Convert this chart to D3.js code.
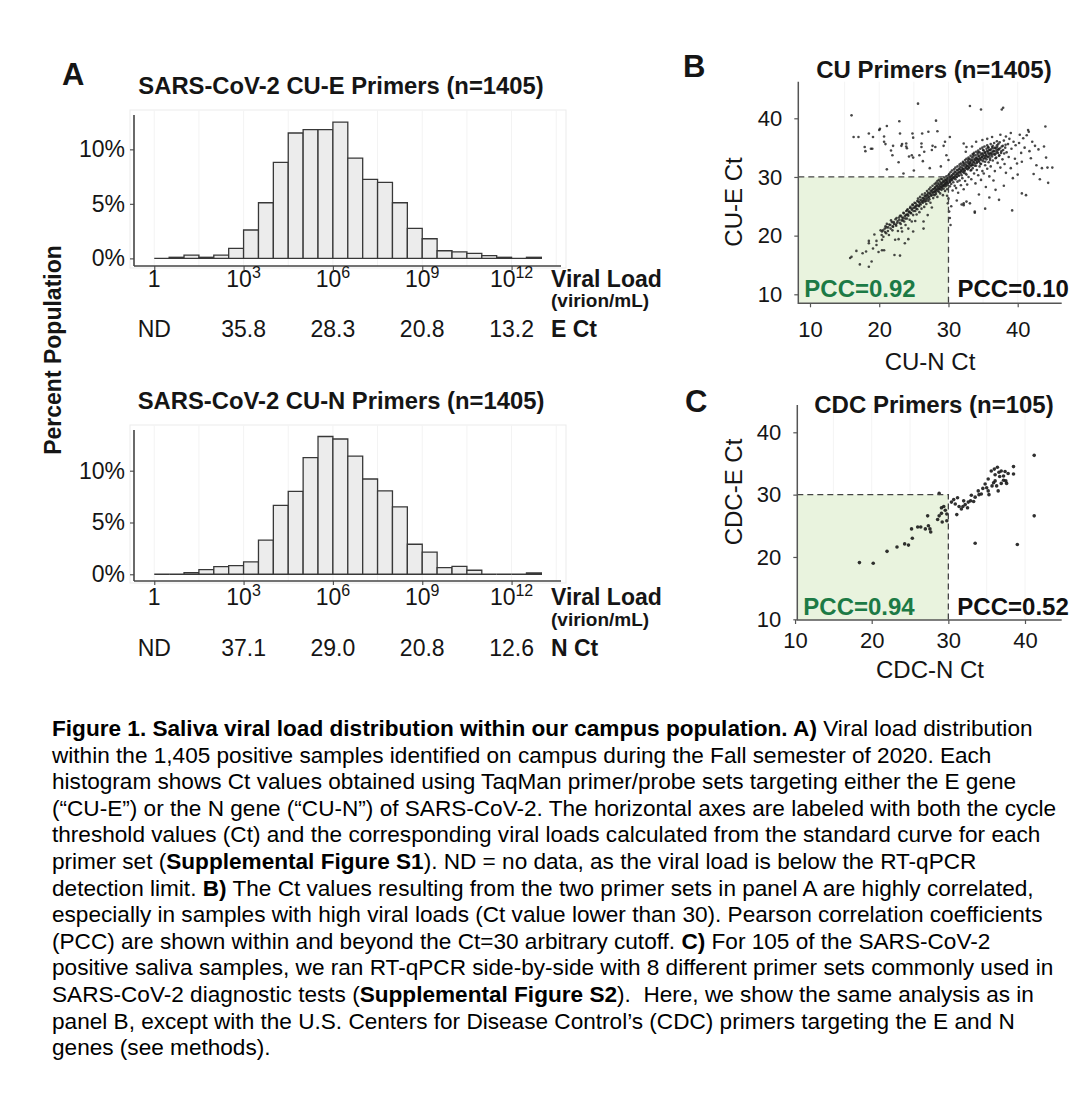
<!DOCTYPE html>
<html>
<head>
<meta charset="utf-8">
<script src="https://cdn.jsdelivr.net/npm/d3@7"></script>
<style>
    body { margin: 0; background: #fff; }
    text { font-family: "Liberation Sans", Arial, sans-serif; fill: #151515; }
</style>
</head>
<body>
<div class="figureContainer"></div>
<script>
// half-decade bins, log10 of viral load
var binExp = [0, 0.5, 1, 1.5, 2, 2.5, 3, 3.5, 4, 4.5, 5, 5.5, 6, 6.5, 7, 7.5, 8, 8.5, 9, 9.5, 10, 10.5, 11, 11.5, 12, 12.5, 13];
var cuE = [0, 0.1, 0.3, 0.1, 0.3, 0.92, 2.6, 5.1, 8.8, 11.5, 11.8, 11.8, 12.5, 9.2, 7.25, 6.97, 5.1, 2.75, 1.8, 0.7, 0.6, 0.45, 0.25, 0.1, 0, 0.1];
var cuN = [0, 0, 0.16, 0.45, 0.74, 0.84, 1.19, 3.3, 6.65, 8.0, 11.26, 13.3, 13.06, 11.4, 9.2, 8.06, 6.5, 2.9, 2.13, 0.65, 0.77, 0.39, 0, 0, 0, 0.13];

var loadTicks = [0, 3, 6, 9, 12];
var ctTicksE = ["ND", "35.8", "28.3", "20.8", "13.2"];
var ctTicksN = ["ND", "37.1", "29.0", "20.8", "12.6"];
var pctTicks = [0, 5, 10];
var ctTicks = [10, 20, 30, 40];

// CU-N Ct (x), CU-E Ct (y): scattered samples
var cuPairs = [
    [15.8,16.2],[16.0,16.4],[16.7,17.4],[17.2,15.1],[17.6,17.0],[18.1,17.3],[18.5,18.7],[18.5,19.1],[18.5,14.7],[18.9,15.6],
    [19.1,17.8],[19.3,20.2],[19.6,19.1],[19.6,18.4],[19.9,17.2],[20.4,19.3],[20.4,17.5],[20.7,17.5],[20.4,20.7],[20.9,21.6],
    [20.2,20.9],[20.6,19.8],[20.8,21.2],[21.0,20.4],[21.1,22.0],[21.3,21.4],[21.4,20.1],[21.6,21.8],[21.7,22.6],[21.9,20.9],
    [22.0,21.5],[22.1,22.3],[22.2,16.7],[22.3,19.3],[22.4,21.9],[22.5,23.0],[22.6,22.2],[22.7,20.8],[22.8,19.4],[22.9,22.7],
    [23.0,16.6],[23.0,23.4],[23.1,22.0],[23.2,21.3],[23.3,20.7],[23.3,23.1],[23.4,22.6],[23.5,23.9],[23.6,22.4],[23.7,18.7],
    [23.7,23.3],[23.8,21.8],[23.9,24.2],[24.0,22.9],[24.0,23.6],
    [24.1,24.5],[24.2,19.4],[24.2,21.2],[24.2,23.4],[24.3,24.0],[24.4,22.7],[24.5,24.9],[24.6,23.8],[24.7,22.4],[24.7,24.4],
    [24.8,25.3],[24.9,20.7],[24.9,23.5],[25.0,24.7],[25.1,25.6],[25.2,22.5],[25.2,24.2],[25.3,25.0],[25.4,23.6],[25.5,25.9],
    [25.5,24.5],[25.6,26.3],[25.7,25.1],[25.8,24.0],[25.8,25.7],[25.9,26.6],[26.0,25.3],[26.1,24.6],[26.1,26.0],[26.2,27.0],
    [26.3,25.6],[26.4,21.2],[26.4,22.4],[26.4,26.4],[26.5,24.9],[26.6,27.2],[26.6,25.8],[26.7,26.7],[26.8,25.4],[26.9,27.6],
    [26.9,26.2],[27.0,23.5],[27.0,27.0],[27.1,25.9],[27.2,27.9],[27.2,26.5],[27.3,27.3],[27.4,25.6],[27.4,28.2],[27.5,26.8],
    [27.6,27.7],[27.6,24.8],[27.7,28.5],[27.8,26.4],[27.8,27.4],[27.9,28.0],[28.0,26.9],[28.0,28.8],
    [28.1,27.6],[28.1,28.3],[28.2,29.0],[28.2,27.1],[28.3,28.6],[28.3,27.9],[28.4,29.3],[28.4,26.6],[28.5,28.2],[28.5,28.9],
    [28.6,27.5],[28.6,29.5],[28.7,28.4],[28.7,28.0],[28.8,29.2],[28.8,27.2],[28.9,28.7],[28.9,29.7],[29.0,28.3],[29.0,27.8],
    [29.1,29.0],[29.1,29.6],[29.2,28.5],[29.2,26.9],[29.3,29.3],[29.3,28.0],[29.4,29.9],[29.4,28.7],[29.5,29.1],[29.5,27.6],
    [29.6,29.5],[29.6,28.4],[29.7,30.1],[29.7,28.9],[29.8,29.3],[29.8,27.9],[29.9,29.8],[29.9,28.6],[30.0,30.3],[30.0,29.0],
    [29.9,25.5],[30.1,24.1],[30.2,23.0],[30.3,21.8],[30.0,26.3],[30.4,25.0],[29.8,26.8],
    [30.1,29.6],[30.1,30.5],[30.2,29.2],[30.2,28.4],[30.3,30.0],[30.3,30.8],[30.4,29.5],[30.4,28.8],[30.5,30.3],[30.5,31.1],
    [30.6,29.8],[30.6,27.7],[30.7,30.6],[30.7,29.1],[30.8,31.3],[30.8,30.0],[30.9,28.5],[30.9,30.9],[31.0,29.6],[31.0,31.6],
    [31.1,30.4],[31.1,28.1],[31.2,31.2],[31.2,30.0],[31.3,29.2],[31.3,31.8],[31.4,30.7],[31.4,27.3],[31.5,31.4],[31.5,30.2],
    [31.6,32.1],[31.6,29.4],[31.7,30.9],[31.7,31.7],[31.8,28.6],[31.8,32.3],[31.9,31.2],[31.9,30.3],[32.0,32.0],[32.0,29.8],
    [32.1,32.6],[32.1,31.4],[32.2,30.7],[32.2,27.9],[32.3,32.2],[32.3,31.0],[32.4,32.9],[32.4,29.3],[32.5,31.7],[32.5,32.5],
    [32.6,30.4],[32.6,33.1],[32.7,31.9],[32.7,28.7],[32.8,32.7],[32.8,31.3],[32.9,33.3],[32.9,30.0],[33.0,32.2],[33.0,31.6],
    [33.1,33.0],[33.1,32.4],[33.2,33.6],[33.2,31.1],[33.3,32.8],[33.3,29.6],[33.4,33.3],[33.4,32.0],[33.5,33.9],[33.5,31.5],
    [33.6,32.6],[33.6,33.5],[33.7,30.6],[33.7,34.1],[33.8,32.9],[33.8,31.9],[33.9,33.7],[33.9,28.9],[34.0,33.2],[34.0,34.3],
    [34.1,32.4],[34.1,31.2],[34.2,33.9],[34.2,33.0],[34.3,34.5],[34.3,30.3],[34.4,33.5],[34.4,32.6],[34.5,34.2],[34.5,31.8],
    [34.6,33.1],[34.6,34.8],[34.7,32.2],[34.7,29.5],[34.8,34.0],[34.8,33.4],[34.9,35.0],[34.9,31.0],[35.0,33.7],[35.0,32.7],
    [35.1,34.5],[35.1,30.6],[35.2,33.2],[35.2,35.2],[35.3,34.1],[35.3,32.0],[35.4,33.6],[35.4,28.3],[35.5,34.8],[35.5,33.0],
    [35.6,35.4],[35.6,31.4],[35.7,34.3],[35.7,33.4],[35.8,32.5],[35.8,35.0],[35.9,33.9],[35.9,30.1],[36.0,34.6],[36.0,33.2],
    [36.1,35.6],[36.1,31.8],[36.2,34.0],[36.3,33.5],[36.3,35.1],[36.4,32.8],[36.5,34.4],[36.5,29.4],[36.6,35.8],[36.7,33.8],
    [36.7,31.0],[36.8,34.9],[36.9,33.3],[37.0,34.3],[37.0,35.4],[37.1,32.4],[37.2,34.7],[37.3,33.6],[37.4,35.9],[37.5,31.6],
    [37.6,34.1],[37.7,35.2],[37.8,33.0],[37.9,34.6],[38.0,36.2],[38.1,32.2],[38.2,35.0],[38.3,30.7],[38.4,34.2],[38.6,35.6],
    [38.7,33.4],[38.8,36.5],[39.0,31.5],[39.1,34.8],[39.2,24.3],[39.3,29.8],[39.4,36.0],[39.6,33.1],[39.7,35.4],[39.9,32.3],
    [40.0,30.4],[40.2,35.8],[40.3,37.2],[40.5,34.1],[40.6,32.6],[40.8,36.6],[41.0,35.0],[41.2,26.9],[41.3,37.1],[41.5,38.0],
    [41.6,37.7],[41.7,34.4],[41.9,33.2],[42.1,36.0],[42.3,30.5],[42.5,35.3],[42.7,32.0],[43.0,34.7],[43.2,29.6],[43.5,31.5],
    [43.8,35.2],[44.0,38.6],[44.1,33.3],[44.3,31.6],[44.4,29.0],[45.0,31.6],
    [31.2,26.0],[31.9,25.3],[32.2,25.5],[32.6,25.8],[33.1,25.5],[33.8,24.1],[34.4,27.0],[35.3,24.6],[35.9,26.5],[36.8,27.8],
    [37.3,26.1],[38.0,28.5],[40.6,27.2],[33.8,23.9],[32.2,25.2],
    [16.0,40.5],[16.3,36.8],[17.0,36.8],[17.9,35.1],[18.0,34.4],[18.5,37.4],[18.8,34.8],[19.0,34.8],[19.1,36.8],[20.0,38.0],
    [20.1,38.2],[20.7,36.9],[20.7,36.0],[20.9,35.6],[21.1,38.7],[21.1,31.3],[21.7,34.5],[21.9,33.7],[22.0,35.3],[22.8,32.5],
    [22.9,39.5],[23.0,37.4],[23.2,35.3],[23.3,35.6],[23.9,35.7],[23.9,35.2],[24.0,34.9],[24.3,33.5],[24.7,33.7],[24.8,37.4],
    [24.9,36.7],[24.9,33.3],[25.0,31.1],[25.6,42.5],[25.8,33.7],[26.1,35.7],[26.1,35.1],[26.2,37.4],[26.3,32.7],[26.5,34.3],
    [27.1,37.7],[27.6,34.6],[27.7,35.3],[28.2,39.6],[28.4,37.8],[28.1,35.1],[29.3,35.3],[29.5,36.0],[29.7,33.7],[30.0,32.9],
    [30.2,36.8],[28.9,31.8],[27.3,31.5],[23.5,30.6],
    [33.1,42.1],[34.7,41.5],[37.7,41.5],[37.9,41.8],
    [32.2,35.7],[32.6,35.1],[32.5,34.3],[33.4,35.2],[34.0,36.0],[34.9,36.3],[35.6,36.5],[36.3,36.8],[37.0,36.1],[37.5,37.2],
    [38.3,36.9],[39.0,37.5]
];

// CU-N Ct (x), CU-E Ct (y): the dense diagonal core
var cuCore = [
    [20.35,20.1],[20.55,20.9],[20.85,20.6],[21.05,21.4],[21.25,20.8],[21.45,21.9],[21.65,21.2],[21.85,22.3],[21.95,21.6],[22.15,22.0],
    [22.35,22.8],[22.45,21.7],[22.65,22.5],[22.85,23.1],[22.95,22.2],[23.15,23.4],[23.25,22.6],[23.45,23.0],[23.55,23.8],[23.75,22.9],
    [23.85,23.5],[24.05,24.3],[24.15,23.6],[24.35,24.1],[24.45,24.7],[24.55,23.9],[24.75,24.6],[24.85,25.2],[24.95,24.2],[25.15,24.9],
    [25.25,25.5],[25.35,24.6],[25.45,25.2],[25.65,25.8],[25.75,25.0],[25.85,25.4],[25.95,26.1],[26.15,25.7],[26.25,26.4],[26.35,25.9],
    [26.45,26.1],[26.55,26.8],[26.65,26.3],[26.75,25.9],[26.85,26.9],[26.95,26.5],[27.05,27.3],[27.15,26.7],[27.25,26.2],[27.35,27.1],
    [27.45,27.6],[27.55,26.9],[27.65,27.3],[27.75,27.9],[27.85,27.0],[27.95,27.5],[28.05,28.1],[28.15,27.4],[28.25,27.8],[28.35,28.4],
    [28.45,27.6],[28.55,28.0],[28.65,28.7],[28.75,27.9],[28.85,28.3],[28.95,28.9],[29.05,28.1],[29.15,28.6],[29.25,29.2],[29.35,28.4],
    [29.45,28.8],[29.55,29.5],[29.65,28.7],[29.75,29.1],[29.85,29.7],[29.95,29.0],[30.05,29.4],[30.15,30.0],[30.25,29.2],[30.35,29.7],
    [30.45,30.2],[30.55,29.5],[30.65,29.9],[30.75,30.5],[30.85,29.8],[30.95,30.2],[31.05,30.8],[31.15,30.0],[31.25,30.5],[31.35,31.1],
    [31.45,30.3],[31.55,30.8],[31.65,31.3],[31.75,30.6],[31.85,31.0],[31.95,31.6],[32.05,30.9],[32.15,31.3],[32.25,31.9],[32.35,31.1],
    [32.45,31.5],[32.55,32.1],[32.65,31.4],[32.75,31.8],[32.85,32.4],[32.95,31.6],[33.05,32.0],[33.15,32.6],[33.25,31.9],[33.35,32.3],
    [33.45,32.9],[33.55,32.1],[33.65,32.5],[33.75,33.1],[33.85,32.3],[33.95,32.8],[34.05,33.3],[34.15,32.6],[34.25,33.0],[34.35,33.6],
    [34.45,32.8],[34.55,33.2],[34.65,33.8],[34.75,32.9],[34.85,33.4],[34.95,34.0],[35.05,33.1],[35.15,33.6],[35.25,34.2],[35.35,33.3],
    [35.45,33.8],[35.55,34.4],[35.65,33.5],[35.75,34.0],[35.85,34.6],[35.95,33.6],[36.05,34.1],[36.15,34.7],[36.25,33.8],[36.35,34.3],
    [36.45,34.9],[36.55,33.9],[36.65,34.4],[36.75,35.0],[36.85,34.0],[36.95,34.6],[37.05,35.1],[37.15,34.1],[37.25,34.7],[37.35,33.7],
    [37.45,34.9],[37.65,34.4],[37.85,35.3],[38.05,34.0],[38.25,35.5],
    [32.15,32.4],[32.45,30.6],[32.9,33.0],[33.3,31.2],[33.6,33.8],[34.0,31.9],[34.3,34.2],[34.6,32.3],[35.0,34.6],[35.3,32.6],
    [35.7,35.1],[36.0,32.9],[36.4,35.3],[36.8,33.2],[37.2,35.6]
];

// CDC-N Ct (x), CDC-E Ct (y)
var cdcPairs = [
    [41.2,36.3],[41.2,26.6],[39.0,22.0],[33.5,22.2],[18.4,19.1],[20.2,19.0],[22.0,20.9],[23.3,21.6],[24.3,22.1],[24.8,21.9],
    [25.3,23.0],[25.2,24.5],[26.0,24.8],[26.4,24.8],[27.0,24.5],[27.4,25.0],[27.6,24.5],[27.7,24.0],[27.3,26.6],[28.8,26.6],
    [29.1,27.0],[29.2,25.6],[28.8,30.2],[29.1,27.9],[29.4,28.1],[29.8,26.9],[29.8,25.8],[30.4,28.8],[30.7,29.2],[31.2,29.5],
    [31.1,26.8],[31.4,28.1],[31.7,27.7],[31.9,28.1],[32.2,28.4],[32.5,27.9],[32.6,28.8],[32.9,29.0],[33.3,28.9],[33.5,29.6],
    [33.9,30.6],[34.0,30.0],[34.3,30.1],[34.8,31.7],[35.0,31.1],[35.2,30.6],[35.3,30.0],[35.7,31.4],[35.9,31.9],[36.1,32.2],
    [36.3,31.4],[36.5,30.6],[35.6,33.8],[36.1,33.2],[36.4,34.4],[36.6,33.6],[36.9,33.8],[37.2,33.0],[37.4,33.7],[37.5,32.2],
    [37.6,31.8],[36.9,31.8],[37.2,32.3],[38.5,34.5],[38.5,33.3],[36.0,34.1],[35.2,32.5],[36.7,32.9],[37.8,33.4],[34.5,31.0],
    [33.0,29.9],[32.0,29.0],[30.9,28.5],[29.6,27.5],[28.6,26.0]
];

var captionLines = [
    [["Figure 1. Saliva viral load distribution within our campus population. A)", 1], [" Viral load distribution", 0]],
    [["within the 1,405 positive samples identified on campus during the Fall semester of 2020. Each", 0]],
    [["histogram shows Ct values obtained using TaqMan primer/probe sets targeting either the E gene", 0]],
    [["(\u201cCU-E\u201d) or the N gene (\u201cCU-N\u201d) of SARS-CoV-2. The horizontal axes are labeled with both the cycle", 0]],
    [["threshold values (Ct) and the corresponding viral loads calculated from the standard curve for each", 0]],
    [["primer set (", 0], ["Supplemental Figure S1", 1], ["). ND = no data, as the viral load is below the RT-qPCR", 0]],
    [["detection limit. ", 0], ["B)", 1], [" The Ct values resulting from the two primer sets in panel A are highly correlated,", 0]],
    [["especially in samples with high viral loads (Ct value lower than 30). Pearson correlation coefficients", 0]],
    [["(PCC) are shown within and beyond the Ct=30 arbitrary cutoff. ", 0], ["C)", 1], [" For 105 of the SARS-CoV-2", 0]],
    [["positive saliva samples, we ran RT-qPCR side-by-side with 8 different primer sets commonly used in", 0]],
    [["SARS-CoV-2 diagnostic tests (", 0], ["Supplemental Figure S2", 1], [").  Here, we show the same analysis as in", 0]],
    [["panel B, except with the U.S. Centers for Disease Control\u2019s (CDC) primers targeting the E and N", 0]],
    [["genes (see methods).", 0]]
];

var w = 1080,
    h = 1101;

var canvas = d3.select(".figureContainer")
    .append("svg")
    .attr("width", w)
    .attr("height", h);

function hideDomain(g) {
    g.select(".domain").remove();
    g.selectAll(".tick line").attr("stroke", "#555").attr("stroke-width", 1.2);
}

function histogram(o) {
    var x = d3.scaleLog()
        .domain([Math.pow(10, -0.68), Math.pow(10, 13.66)])
        .range([134, 561]);
    var y = d3.scaleLinear()
        .domain(o.yDomain)
        .range([o.axisY, o.axisTop]);

    var g = canvas.append("g");

    g.append("rect")
        .attr("x", 130).attr("y", o.axisTop - 5)
        .attr("width", 436).attr("height", o.axisY - o.axisTop + 7)
        .attr("fill", "none")
        .attr("stroke", "#ebebeb");

    g.selectAll(".grid")
        .data([0, 1.5, 3, 4.5, 6, 7.5, 9, 10.5, 12, 13.5])
        .enter().append("line")
        .attr("x1", function (d) { return x(Math.pow(10, d)); })
        .attr("x2", function (d) { return x(Math.pow(10, d)); })
        .attr("y1", o.axisTop - 5)
        .attr("y2", o.axisY)
        .attr("stroke", "#f3f3f3");

    g.selectAll(".bar")
        .data(o.values)
        .enter().append("path")
        .attr("d", function (d, i) {
            var x0 = x(Math.pow(10, binExp[i])),
                x1 = x(Math.pow(10, binExp[i + 1])),
                y0 = y(0),
                y1 = y(d);
            return "M" + x0 + "," + y0 + "V" + y1 + "H" + x1 + "V" + y0 + "Z";
        })
        .attr("fill", "#ececec")
        .attr("stroke", "#383838")
        .attr("stroke-width", 1.3);

    g.append("g")
        .attr("transform", "translate(134,0)")
        .call(d3.axisLeft(y).tickValues(pctTicks).tickSize(4).tickPadding(5)
            .tickFormat(function (d) { return d + "%"; }))
        .call(hideDomain)
        .selectAll("text")
        .style("font-size", "23px")
        .style("font-family", "'Liberation Sans', Arial, sans-serif")
        .attr("fill", "#222");

    g.append("g")
        .attr("transform", "translate(0," + o.axisY + ")")
        .call(d3.axisBottom(x).tickValues(loadTicks.map(function (e) { return Math.pow(10, e); }))
            .tickSize(4).tickFormat(""))
        .call(hideDomain);

    g.append("line")
        .attr("x1", 134).attr("x2", 134)
        .attr("y1", o.axisTop).attr("y2", o.axisY)
        .attr("stroke", "#444").attr("stroke-width", 1.6);
    g.append("line")
        .attr("x1", 134).attr("x2", 561)
        .attr("y1", o.axisY).attr("y2", o.axisY)
        .attr("stroke", "#444").attr("stroke-width", 1.6);

    var load = g.selectAll(".load")
        .data(loadTicks)
        .enter().append("text")
        .attr("x", function (d) { return x(Math.pow(10, d)); })
        .attr("y", o.row1)
        .attr("text-anchor", "middle")
        .style("font-size", "23px");
    load.append("tspan").text(function (d) { return d === 0 ? "1" : "10"; });
    load.filter(function (d) { return d > 0; })
        .append("tspan")
        .attr("dy", -9)
        .style("font-size", "16px")
        .text(function (d) { return d; });

    g.selectAll(".ct")
        .data(o.ct)
        .enter().append("text")
        .attr("x", function (d, i) { return x(Math.pow(10, loadTicks[i])); })
        .attr("y", o.row2)
        .attr("text-anchor", "middle")
        .style("font-size", "23px")
        .text(function (d) { return d; });

    g.append("text").attr("x", 551).attr("y", o.row1)
        .style("font-size", "23px").style("font-weight", "bold").text("Viral Load");
    g.append("text").attr("x", 551).attr("y", o.row1 + o.unitGap)
        .style("font-size", "19px").style("font-weight", "bold").text("(virion/mL)");
    g.append("text").attr("x", 551).attr("y", o.row2)
        .style("font-size", "23px").style("font-weight", "bold").text(o.ctLabel);

    g.append("text")
        .attr("x", 341).attr("y", o.titleY)
        .attr("text-anchor", "middle")
        .style("font-size", "23.8px").style("font-weight", "bold")
        .text(o.title);
}

function scatter(o) {
    var x = d3.scaleLinear().domain(o.xDomain).range(o.xRange),
        y = d3.scaleLinear().domain([10, 40]).range(o.yRange);
    var g = canvas.append("g");
    var left = o.box[0], right = o.box[1], top = o.box[2], bottom = o.box[3];

    g.selectAll(".grid")
        .data([15, 20, 25, 30, 35, 40])
        .enter().append("line")
        .attr("x1", function (d) { return x(d); })
        .attr("x2", function (d) { return x(d); })
        .attr("y1", top).attr("y2", bottom)
        .attr("stroke", "#f4f4f4");

    g.append("rect")
        .attr("x", left).attr("y", y(30))
        .attr("width", x(30) - left).attr("height", bottom - y(30))
        .attr("fill", "#e9f3de");

    g.selectAll(".dot")
        .data(o.points)
        .enter().append("circle")
        .attr("cx", function (d) { return x(d[0]); })
        .attr("cy", function (d) { return y(d[1]); })
        .attr("r", o.r)
        .attr("fill", "#1a1a1a")
        .attr("fill-opacity", o.alpha);

    g.append("path")
        .attr("d", "M" + left + "," + y(30) + "H" + x(30) + "V" + bottom)
        .attr("fill", "none")
        .attr("stroke", "#444")
        .attr("stroke-width", 1.3)
        .attr("stroke-dasharray", "6,4");

    g.append("g")
        .attr("transform", "translate(" + left + ",0)")
        .call(d3.axisLeft(y).tickValues(ctTicks).tickSize(4).tickPadding(12))
        .call(hideDomain)
        .selectAll("text")
        .style("font-size", "22px")
        .style("font-family", "'Liberation Sans', Arial, sans-serif")
        .attr("fill", "#222");

    g.append("g")
        .attr("transform", "translate(0," + bottom + ")")
        .call(d3.axisBottom(x).tickValues(ctTicks).tickSize(4).tickPadding(o.xPad))
        .call(hideDomain)
        .selectAll("text")
        .style("font-size", "22px")
        .style("font-family", "'Liberation Sans', Arial, sans-serif")
        .attr("fill", "#222");

    g.append("path")
        .attr("d", "M" + left + "," + top + "V" + bottom + "H" + right)
        .attr("fill", "none")
        .attr("stroke", "#555")
        .attr("stroke-width", 1.5);

    g.append("text")
        .attr("x", 934).attr("y", o.titleY)
        .attr("text-anchor", "middle")
        .style("font-size", "24px").style("font-weight", "bold")
        .text(o.title);

    g.append("text")
        .attr("x", 930).attr("y", o.xLabelY)
        .attr("text-anchor", "middle")
        .style("font-size", "24px")
        .text(o.xLabel);

    g.append("text")
        .attr("transform", "translate(742," + o.yLabelY + ") rotate(-90)")
        .attr("text-anchor", "middle")
        .style("font-size", "24px")
        .text(o.yLabel);

    g.append("text")
        .attr("x", left + 6).attr("y", o.pccY)
        .style("font-size", "24px").style("font-weight", "bold")
        .style("fill", "#1c7a45")
        .text(o.pcc[0]);
    g.append("text")
        .attr("x", x(30) + 9).attr("y", o.pccY)
        .style("font-size", "24px").style("font-weight", "bold")
        .style("fill", "#111")
        .text(o.pcc[1]);
}

histogram({
    values: cuE, ct: ctTicksE, ctLabel: "E Ct",
    title: "SARS-CoV-2 CU-E Primers (n=1405)",
    axisTop: 115, axisY: 266, yDomain: [-0.7, 13.15],
    titleY: 94, row1: 287, row2: 337, unitGap: 20
});

histogram({
    values: cuN, ct: ctTicksN, ctLabel: "N Ct",
    title: "SARS-CoV-2 CU-N Primers (n=1405)",
    axisTop: 430, axisY: 581, yDomain: [-0.65, 13.93],
    titleY: 409, row1: 605, row2: 656, unitGap: 21
});

scatter({
    points: cuPairs.concat(cuCore), r: 1.3, alpha: 0.8,
    xDomain: [10, 40], xRange: [810, 1017.7], yRange: [294.3, 118.3],
    box: [798.3, 1061.7, 81.7, 303.3], xPad: 14,
    title: "CU Primers (n=1405)", titleY: 78,
    xLabel: "CU-N Ct", xLabelY: 370, yLabel: "CU-E Ct", yLabelY: 202,
    pcc: ["PCC=0.92", "PCC=0.10"], pccY: 297
});

scatter({
    points: cdcPairs, r: 1.8, alpha: 0.9,
    xDomain: [20, 40], xRange: [871.7, 1025], yRange: [619.3, 432.3],
    box: [797.3, 1061.7, 405, 620], xPad: 8,
    title: "CDC Primers (n=105)", titleY: 413,
    xLabel: "CDC-N Ct", xLabelY: 678, yLabel: "CDC-E Ct", yLabelY: 492,
    pcc: ["PCC=0.94", "PCC=0.52"], pccY: 615
});

// panel letters and shared label
canvas.append("text").attr("x", 62).attr("y", 85)
    .style("font-size", "31px").style("font-weight", "bold").text("A");
canvas.append("text").attr("x", 683).attr("y", 77)
    .style("font-size", "31px").style("font-weight", "bold").text("B");
canvas.append("text").attr("x", 685).attr("y", 412)
    .style("font-size", "31px").style("font-weight", "bold").text("C");

canvas.append("text")
    .attr("transform", "translate(61,350) rotate(-90)")
    .attr("text-anchor", "middle")
    .style("font-size", "23px").style("font-weight", "bold")
    .text("Percent Population");

// caption
var caption = canvas.selectAll(".caption")
    .data(captionLines)
    .enter().append("text")
    .attr("x", 52)
    .attr("y", function (d, i) { return 736 + i * 26.6; })
    .style("font-size", "22.6px")
    .style("white-space", "pre")
    .style("fill", "#000");

caption.selectAll("tspan")
    .data(function (d) { return d; })
    .enter().append("tspan")
    .style("font-weight", function (d) { return d[1] ? "bold" : "normal"; })
    .text(function (d) { return d[0]; });
</script>
</body>
</html>
